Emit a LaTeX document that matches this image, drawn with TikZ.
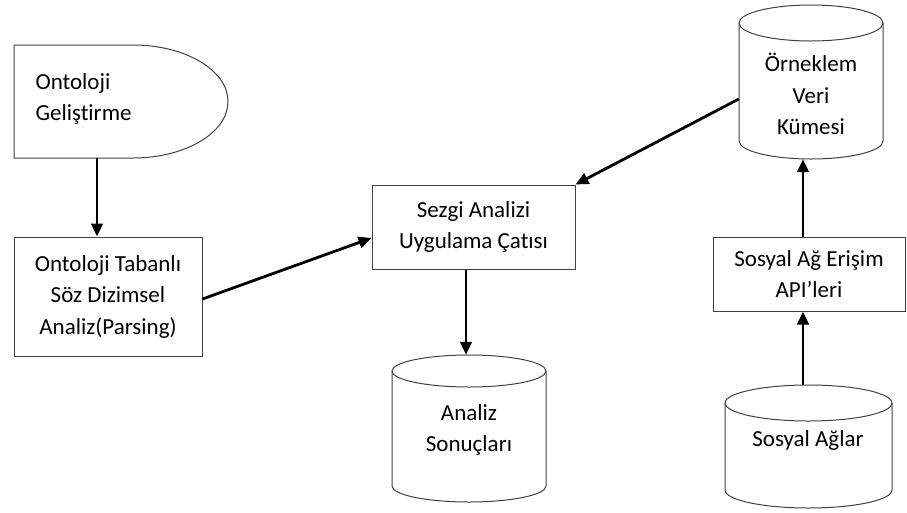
\documentclass[tikz,border=0pt]{standalone}
\usepackage{fontspec}
\setmainfont{Carlito}[Ligatures=NoCommon]
\usetikzlibrary{arrows.meta}
\begin{document}
\begin{tikzpicture}[x=1pt,y=-1pt,
  every node/.style={font=\fontsize{23}{31.5}\selectfont},
  box/.style={draw=black!75, line width=1pt, inner sep=0pt, align=center},
  cover/.style={inner sep=0pt, draw=none},
  outline/.style={draw=black!75, line width=1pt},
  arr/.style={line width=2.8pt, -{Triangle[length=13pt,width=11.5pt]}}]

\useasboundingbox (0,0) rectangle (907,512);

% delay-shaped start block
\draw[outline] (14,45) -- (133,45)
  arc[start angle=-90, end angle=90, x radius=95, y radius=56.5]
  -- (14,158) -- cycle;
\node[cover, minimum width=214, minimum height=113] (gel) at (121,101.5) {};
\node[align=left, anchor=west] (gelt) at (32,99) {Ontoloji\\Geliştirme};

% process boxes
\node[box, minimum width=188, minimum height=119] (tab) at (108,296.5)
  {Ontoloji Tabanlı\\Söz Dizimsel\\Analiz(Parsing)};
\node[box, minimum width=203, minimum height=84] (sez) at (473.5,227)
  {Sezgi Analizi\\Uygulama Çatısı};
\node[box, minimum width=192, minimum height=74] (api) at (809,274)
  {Sosyal Ağ Erişim\\API’leri};

% data stores (cylinders)
\draw[outline] (392,371) -- (392,486) arc[start angle=180, end angle=0, x radius=77, y radius=16] -- (546,371);
\draw[outline] (469,371) ellipse[x radius=77, y radius=16];
\node[cover, minimum width=154, minimum height=147] (ana) at (469,428.5) {};
\node[align=center] (anat) at (469,430) {Analiz\\Sonuçları};

\draw[outline] (739,23) -- (739,141) arc[start angle=180, end angle=0, x radius=72, y radius=18] -- (883,23);
\draw[outline] (811,23) ellipse[x radius=72, y radius=18];
\node[cover, minimum width=144, minimum height=154] (orn) at (811,82) {};
\node[align=center] (ornt) at (811,94) {Örneklem\\Veri\\Kümesi};

\draw[outline] (725,403) -- (725,490) arc[start angle=180, end angle=0, x radius=83.5, y radius=18] -- (892,403);
\draw[outline] (808.5,403) ellipse[x radius=83.5, y radius=18];
\node[cover, minimum width=167, minimum height=123] (sos) at (808.5,446.5) {};
\node[align=center] (sost) at (808,440) {Sosyal Ağlar};

% guide positions for the vertical connectors
\coordinate (c1) at (97,0);
\coordinate (c2) at (466,0);
\coordinate (c3) at (803,0);

% connectors
\draw[arr] (gel.south -| c1) -- (tab.north -| c1);
\draw[arr] ([yshift=-2.5pt]tab.east) -- ([yshift=-11pt]sez.west);
\draw[arr] ([yshift=-17pt]orn.west) -- (sez.north east);
\draw[arr] (sez.south -| c2) -- (ana.north -| c2);
\draw[arr] (sos.north -| c3) -- (api.south -| c3);
\draw[arr] (api.north -| c3) -- (orn.south -| c3);
\end{tikzpicture}
\end{document}
